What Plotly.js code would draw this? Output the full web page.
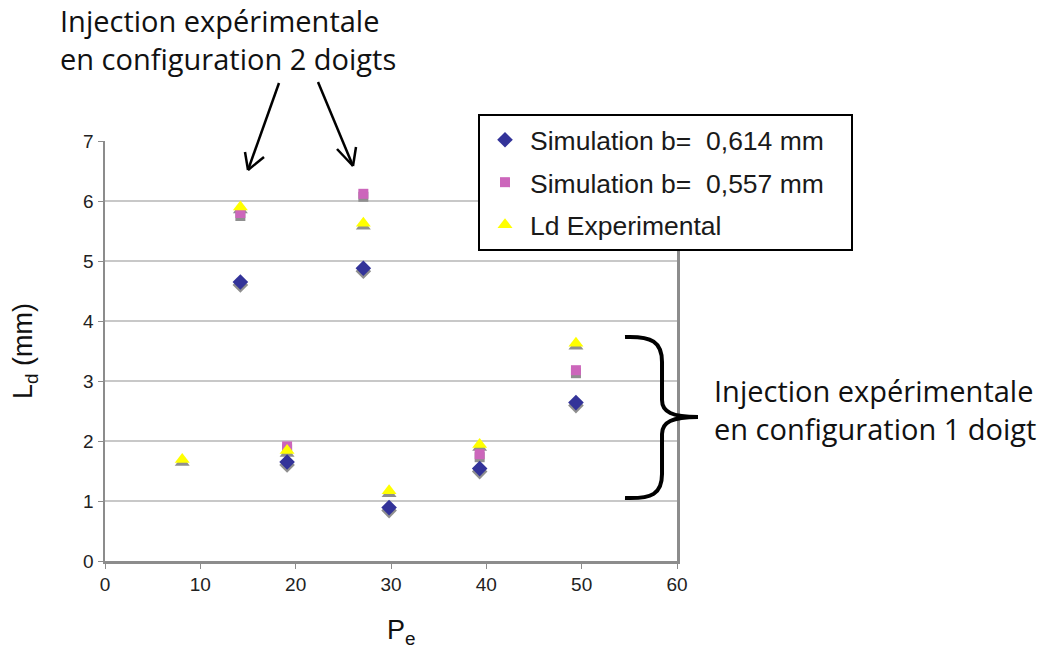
<!DOCTYPE html>
<html>
<head>
<meta charset="utf-8">
<script src="https://cdn.plot.ly/plotly-3.0.1.min.js"></script>
<style>html,body{margin:0;padding:0;background:#fff}#chart{width:1041px;height:653px}</style>
</head>
<body>
<div id="chart"></div>
<script>
// ---- data ----
const seriesNames = ["Simulation b=  0,614 mm&nbsp;&nbsp;&nbsp;", "Simulation b=  0,557 mm", "Ld Experimental"];
const pe614 = [14.2, 27.1, 19.1, 29.8, 39.3, 49.4];
const ld614 = [4.6, 4.83, 1.6, 0.84, 1.49, 2.59];
const pe557 = [14.2, 27.1, 19.1, 39.3, 49.4];
const ld557 = [5.75, 6.07, 1.86, 1.73, 3.13];
const peExp = [8.1, 14.2, 27.1, 19.1, 29.8, 39.3, 49.4];
const ldExp = [1.64, 5.85, 5.58, 1.79, 1.12, 1.89, 3.58];
const xTicks = [0, 10, 20, 30, 40, 50, 60];
const yTicks = [0, 1, 2, 3, 4, 5, 6, 7];

// ---- geometry helpers (pixel -> paper) ----
const L = 105, R = 677, T = 141, B = 561, W = 1041, H = 653;
const px = x => (x - L) / (R - L);
const py = y => (B - y) / (B - T);

const colors = ["#333399", "#cc66bb", "#ffff00"];
const symbols = ["diamond", "square", "triangle-up"];
const sizes = [12, 10, 13];
const xs = [pe614, pe557, peExp];
const ys = [ld614, ld557, ldExp];

const traces = [];
// grey drop shadows on the main axes
for (let i = 0; i < 3; i++) {
  traces.push({
    x: xs[i], y: ys[i], type: "scatter", mode: "markers",
    showlegend: false, hoverinfo: "skip",
    marker: {symbol: symbols[i], size: sizes[i], color: "#8f8f8f", line: {width: 0}}
  });
}
// coloured markers on an overlaid hidden axis, lifted by a few pixels above their shadow
for (let i = 0; i < 3; i++) {
  traces.push({
    x: xs[i], y: ys[i], type: "scatter", mode: "markers", name: seriesNames[i], yaxis: "y2",
    legendgroup: "g" + i,
    marker: {symbol: symbols[i], size: sizes[i], color: colors[i], line: {width: 0}}
  });
}

const shadowShift = 3 / ((B - T) / 7);

function seg(x0, y0, x1, y1, w) {
  return {type: "line", xref: "paper", yref: "paper", x0: px(x0), y0: py(y0), x1: px(x1), y1: py(y1),
    line: {color: "#000", width: w || 2.5}};
}
function pathPx(cmds) {
  return cmds.map(c => {
    let s = c[0];
    for (let k = 1; k < c.length; k += 2) s += " " + px(c[k]).toFixed(4) + "," + py(c[k + 1]).toFixed(4);
    return s;
  }).join(" ");
}

const shapes = [
  seg(279, 83, 248, 170), seg(248, 170, 245, 152), seg(248, 170, 264, 157),
  seg(318, 82, 353, 166), seg(353, 166, 337, 149), seg(353, 166, 356, 147),
  {type: "path", xref: "paper", yref: "paper", line: {color: "#000", width: 4},
   path: pathPx([["M", 625, 337], ["C", 652, 336, 662, 342, 662, 362], ["L", 662, 400],
                 ["C", 662, 412, 672, 417, 698, 417], ["C", 672, 417, 662, 422, 662, 434],
                 ["L", 662, 474], ["C", 662, 494, 652, 499, 625, 498]])}
];

const annFont = {family: "Open Sans, Noto Sans, sans-serif", size: 29, color: "#111"};
const titleFont = {family: "Liberation Sans, Arial, sans-serif", size: 27, color: "#111"};
const annotations = [
  {xref: "paper", yref: "paper", x: px(58), y: py(-1), xanchor: "left", yanchor: "top", align: "left",
   showarrow: false, text: "Injection expérimentale<br>en configuration 2 doigts", font: annFont},
  {xref: "paper", yref: "paper", x: px(712), y: py(409), xanchor: "left", yanchor: "middle", align: "left",
   showarrow: false, text: "Injection expérimentale<br>en configuration 1 doigt", font: annFont},
  {xref: "paper", yref: "paper", x: px(401), y: py(632), xanchor: "center", yanchor: "middle",
   showarrow: false, text: "P<sub>e</sub>", font: titleFont}
];

const axFont = {family: "Liberation Sans, Arial, sans-serif", size: 19, color: "#222"};
const layout = {
  width: W, height: H,
  margin: {l: L, r: W - R, t: T, b: H - B, pad: 0},
  paper_bgcolor: "#fff", plot_bgcolor: "#fff",
  showlegend: true,
  legend: {x: px(478), y: py(114), xanchor: "left", yanchor: "top",
    bgcolor: "#fff", bordercolor: "#000", borderwidth: 2,
    font: {family: "Liberation Sans, Arial, sans-serif", size: 26.5, color: "#1a1a1a"},
    traceorder: "grouped", tracegroupgap: 5, itemwidth: 40},
  xaxis: {range: [0, 60], tickvals: xTicks, ticktext: xTicks.map(String),
    showgrid: false, zeroline: false, showline: true, linecolor: "#8c8c8c", linewidth: 2.5,
    ticks: "outside", ticklen: 5, tickcolor: "#8c8c8c", tickfont: axFont},
  yaxis: {range: [0, 7], tickvals: yTicks, ticktext: yTicks.map(String),
    showgrid: true, gridcolor: "#c8c8c8", gridwidth: 1.5, zeroline: false,
    showline: true, mirror: true, linecolor: "#8c8c8c", linewidth: 2.5,
    ticks: "outside", ticklen: 5, tickcolor: "#8c8c8c", tickfont: axFont,
    title: {text: "L<sub>d</sub> (mm)", font: titleFont, standoff: 43}},
  yaxis2: {overlaying: "y", range: [0 - shadowShift, 7 - shadowShift], visible: false, showgrid: false},
  shapes: shapes,
  annotations: annotations
};

Plotly.newPlot("chart", traces, layout, {displayModeBar: false, staticPlot: true});
</script>
</body>
</html>
